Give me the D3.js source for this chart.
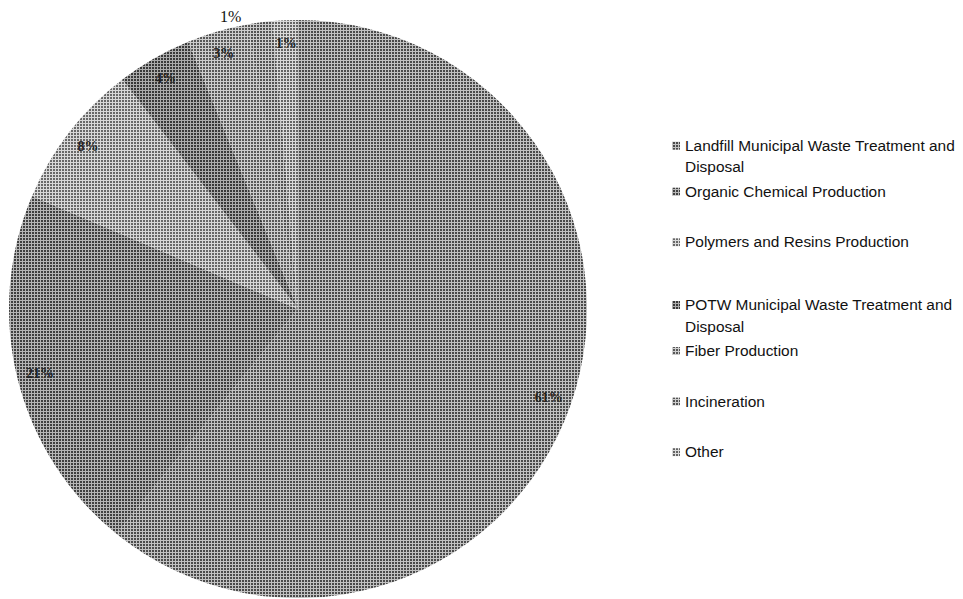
<!DOCTYPE html>
<html>
<head>
<meta charset="utf-8">
<script src="https://cdn.jsdelivr.net/npm/d3@7"></script>
<style>
  html, body { margin: 0; padding: 0; background: #fff; }
  svg { display: block; }
</style>
</head>
<body>
<svg id="chart" width="963" height="599"></svg>
<script>
// ---- data ----
const categories = [
  "Landfill Municipal Waste Treatment and Disposal",
  "Organic Chemical Production",
  "Polymers and Resins Production",
  "POTW Municipal Waste Treatment and Disposal",
  "Fiber Production",
  "Incineration",
  "Other"
];
const shares = [60.8, 20.6, 8.2, 4.2, 3.4, 1.4, 1.4];

// ---- styles ----
const baseTones = ["#4a4a4a", "#404040", "#686868", "#383838", "#585858", "#525252", "#646464"];
const gridOpacity = [0.66, 0.62, 0.74, 0.58, 0.7, 0.7, 0.76];

const svg = d3.select("#chart");
const cx = 298, cy = 309, R = 289;

// halftone-like patterns
const defs = svg.append("defs");
categories.forEach((c, i) => {
  const p = defs.append("pattern")
    .attr("id", "pat" + i)
    .attr("patternUnits", "userSpaceOnUse")
    .attr("width", 3).attr("height", 3);
  p.append("rect").attr("width", 3).attr("height", 3).attr("fill", baseTones[i]);
  p.append("rect").attr("x", 0).attr("y", 0).attr("width", 3).attr("height", 1)
    .attr("fill", "#fff").attr("opacity", gridOpacity[i]);
  p.append("rect").attr("x", 0).attr("y", 1).attr("width", 1).attr("height", 2)
    .attr("fill", "#fff").attr("opacity", gridOpacity[i]);
});

const data = categories.map((c, i) => ({ name: c, value: shares[i], idx: i }));
const total = d3.sum(shares);

const pie = d3.pie().value(d => d.value).sort(null).startAngle(0).endAngle(2 * Math.PI);
const arcs = pie(data);
const arc = d3.arc().innerRadius(0).outerRadius(R);

const g = svg.append("g").attr("transform", `translate(${cx},${cy})`);
g.selectAll("path.slice")
  .data(arcs)
  .join("path")
  .attr("class", "slice")
  .attr("d", arc)
  .attr("fill", d => `url(#pat${d.data.idx})`)
  .attr("stroke", "none");

// ---- data labels ----
const fmt = d => Math.round(d.data.value / total * 100) + "%";
const labelArc = d3.arc().innerRadius(R * 0.92).outerRadius(R * 0.92);
const inPos = arcs.map(a => labelArc.centroid(a));
const outside = arcs.map((a, i) => {
  if (i + 1 >= arcs.length) return false;
  const [x1, y1] = inPos[i], [x2, y2] = inPos[i + 1];
  return Math.abs(x1 - x2) < 26 && Math.abs(y1 - y2) < 14;
});

g.selectAll("text.lbl")
  .data(arcs)
  .join("text")
  .attr("class", "lbl")
  .each(function(d, i) {
    const t = d3.select(this);
    if (outside[i]) {
      const mid = (d.startAngle + d.endAngle) / 2;
      const r = R + 6;
      t.attr("x", Math.sin(mid) * r)
       .attr("y", -Math.cos(mid) * r)
       .attr("dx", -18)
       .attr("text-anchor", "end")
       .attr("fill", "#111")
       .attr("font-size", 16);
    } else {
      t.attr("x", inPos[i][0]).attr("y", inPos[i][1])
       .attr("text-anchor", "middle")
       .attr("fill", "#222")
       .attr("font-size", 14)
       .attr("font-weight", "bold");
    }
  })
  .attr("dominant-baseline", "central")
  .attr("font-family", "'Liberation Serif', 'DejaVu Serif', serif")
  .text(fmt);

// ---- legend ----
const legendX = 672, textX = 685;
const targetWidth = 270;
const fontFamily = "'Liberation Sans', Arial, sans-serif";

const probe = svg.append("text").attr("font-family", fontFamily).attr("font-size", 14)
  .text("Landfill Municipal Waste Treatment and");
const fs = 14 * targetWidth / probe.node().getComputedTextLength();
probe.remove();

function wrapWords(str, maxW) {
  const words = str.split(" ");
  const lines = [];
  let cur = "";
  const t = svg.append("text").attr("font-family", fontFamily).attr("font-size", fs);
  words.forEach(w => {
    const test = cur ? cur + " " + w : w;
    t.text(test);
    if (t.node().getComputedTextLength() > maxW && cur) {
      lines.push(cur); cur = w;
    } else cur = test;
  });
  if (cur) lines.push(cur);
  t.remove();
  return lines;
}

const slot = 50.6, wrapExtra = 7.5, firstLineDrop = 12.1, lineH = 21.5, top0 = 138.6;
let wrappedBefore = 0;
const leg = svg.append("g");
data.forEach((d, i) => {
  const lines = wrapWords(d.name, targetWidth + 4);
  const wrapped = lines.length > 1;
  const base = top0 + i * slot + wrappedBefore * wrapExtra + (wrapped ? firstLineDrop : 0);
  if (wrapped) wrappedBefore++;
  leg.append("rect")
    .attr("x", legendX).attr("y", base - 9)
    .attr("width", 8).attr("height", 8)
    .attr("fill", `url(#pat${d.idx})`);
  const t = leg.append("text")
    .attr("font-family", fontFamily)
    .attr("font-size", fs)
    .attr("fill", "#111");
  lines.forEach((ln, k) => {
    t.append("tspan").attr("x", textX).attr("y", base + k * lineH).text(ln);
  });
});
</script>
</body>
</html>
